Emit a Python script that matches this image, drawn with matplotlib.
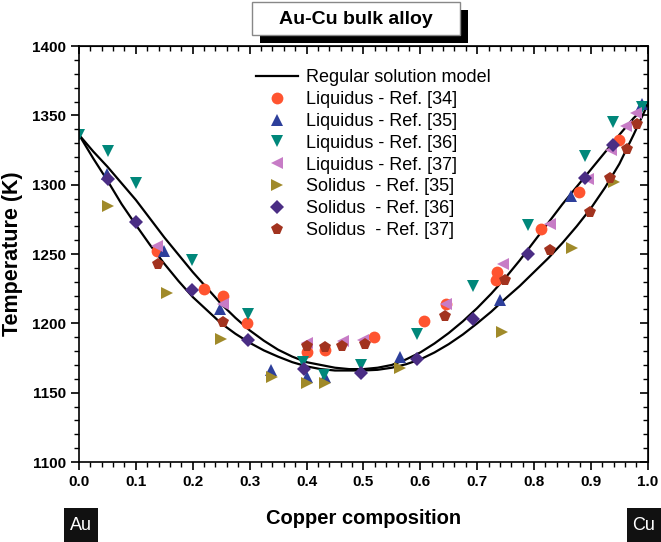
import matplotlib
matplotlib.use("Agg")
import matplotlib.pyplot as plt
from matplotlib.patches import Rectangle
from matplotlib.ticker import MultipleLocator

plt.rcParams["font.family"] = ["Liberation Sans", "DejaVu Sans"]

# Regular solution model curves
model_x = [0.0, 0.025, 0.05, 0.075, 0.1, 0.125, 0.15, 0.175, 0.2, 0.225,
           0.25, 0.275, 0.3, 0.325, 0.35, 0.375, 0.4, 0.425, 0.45, 0.475,
           0.5, 0.525, 0.55, 0.575, 0.6, 0.625, 0.65, 0.675, 0.7, 0.725,
           0.75, 0.775, 0.8, 0.825, 0.85, 0.875, 0.9, 0.925, 0.95, 0.975, 1.0]
liquidus_T = [1336, 1324, 1313, 1301, 1289, 1275.5, 1262, 1249.5, 1237, 1225.5,
              1214, 1204, 1195, 1187.5, 1181, 1176, 1172, 1170, 1168, 1167,
              1167, 1168, 1170, 1174, 1179, 1185.5, 1193, 1201.5, 1211, 1221.5,
              1233, 1245.5, 1259, 1272.5, 1286, 1298.5, 1311, 1323.5, 1336, 1348, 1358]
solidus_T = [1336, 1319, 1303, 1286, 1271, 1256.5, 1243, 1230.5, 1219, 1209.5,
             1200, 1192.5, 1186, 1180.5, 1176, 1172, 1169, 1167, 1166, 1166,
             1166, 1166.5, 1168, 1170.5, 1174, 1179, 1185, 1192, 1200, 1208.5,
             1218, 1227, 1237, 1247, 1258, 1270, 1283, 1298, 1315, 1336, 1358]

# experimental points
liq34_x = [0.137, 0.22, 0.253, 0.295, 0.40, 0.432, 0.518, 0.606, 0.645, 0.735, 0.733, 0.812, 0.879, 0.949]
liq34_T = [1252, 1225, 1220, 1200, 1179, 1181, 1190, 1202, 1214, 1237, 1231, 1268, 1295, 1332]

liq35_x = [0.05, 0.149, 0.248, 0.337, 0.40, 0.432, 0.564, 0.74, 0.865, 0.99]
liq35_T = [1308, 1252, 1210, 1166, 1161, 1161, 1176, 1217, 1292, 1358]

liq36_x = [0.0, 0.051, 0.10, 0.199, 0.297, 0.394, 0.43, 0.496, 0.594, 0.693, 0.789, 0.889, 0.938, 0.99]
liq36_T = [1336, 1324, 1301, 1246, 1207, 1172, 1163, 1170, 1192, 1227, 1271, 1321, 1345, 1356]

liq37_x = [0.137, 0.253, 0.40, 0.464, 0.50, 0.645, 0.745, 0.828, 0.895, 0.935, 0.961, 0.979]
liq37_T = [1256, 1214, 1186, 1187, 1188, 1214, 1243, 1272, 1304, 1325, 1342, 1352]

sol35_x = [0.051, 0.155, 0.25, 0.339, 0.40, 0.432, 0.564, 0.743, 0.866, 0.94]
sol35_T = [1285, 1222, 1189, 1161, 1157, 1157, 1168, 1194, 1254, 1302]

sol36_x = [0.051, 0.10, 0.199, 0.297, 0.395, 0.496, 0.594, 0.692, 0.789, 0.889, 0.938]
sol36_T = [1304, 1273, 1224, 1188, 1167, 1164, 1174, 1203, 1250, 1305, 1329]

sol37_x = [0.139, 0.253, 0.40, 0.432, 0.462, 0.503, 0.643, 0.749, 0.828, 0.898, 0.933, 0.963, 0.981]
sol37_T = [1243, 1201, 1184, 1183, 1184, 1185, 1205, 1231, 1253, 1280, 1305, 1326, 1344]

fig = plt.figure(figsize=(6.61, 5.42), dpi=100)
ax = fig.add_axes([0.1195, 0.1476, 0.8605, 0.7674])

ax.plot(model_x, liquidus_T, color="black", lw=1.6, label="Regular solution model")
ax.plot(model_x, solidus_T, color="black", lw=1.6)

ms = 8.5
series = [
    (liq34_x, liq34_T, "o", "#ff5430", "Liquidus - Ref. [34]", ms),
    (liq35_x, liq35_T, "^", "#2d3f9b", "Liquidus - Ref. [35]", ms),
    (liq36_x, liq36_T, "v", "#00877a", "Liquidus - Ref. [36]", ms),
    (liq37_x, liq37_T, "<", "#c77cc6", "Liquidus - Ref. [37]", ms),
    (sol35_x, sol35_T, ">", "#a08a2a", "Solidus  - Ref. [35]", ms),
    (sol36_x, sol36_T, "D", "#4a2d84", "Solidus  - Ref. [36]", ms - 1.5),
    (sol37_x, sol37_T, "p", "#a2331f", "Solidus  - Ref. [37]", ms),
]
for xs, ts, mk, col, lab, size in series:
    ax.plot(xs, ts, linestyle="none", marker=mk, color=col, markersize=size,
            markeredgewidth=0, label=lab)

ax.set_xlim(0, 1)
ax.set_ylim(1100, 1400)
ax.xaxis.set_major_locator(MultipleLocator(0.1))
ax.xaxis.set_minor_locator(MultipleLocator(0.02))
ax.yaxis.set_major_locator(MultipleLocator(50))
ax.yaxis.set_minor_locator(MultipleLocator(10))
ax.tick_params(which="major", direction="out", length=6, width=1.2, labelsize=11)
ax.tick_params(which="minor", direction="out", length=3.5, width=1.0)
for lbl in ax.get_yticklabels():
    lbl.set_fontweight("bold")
ax.set_xticklabels([f"{v:.1f}" for v in ax.get_xticks()], fontweight="bold")
for sp in ax.spines.values():
    sp.set_linewidth(1.2)

# mirrored ticks on top/right pointing inward
top = ax.secondary_xaxis("top")
top.xaxis.set_major_locator(MultipleLocator(0.1))
top.xaxis.set_minor_locator(MultipleLocator(0.02))
top.tick_params(which="major", direction="in", length=6, width=1.2, labeltop=False)
top.tick_params(which="minor", direction="in", length=3.5, width=1.0)
right = ax.secondary_yaxis("right")
right.yaxis.set_major_locator(MultipleLocator(50))
right.yaxis.set_minor_locator(MultipleLocator(10))
right.tick_params(which="major", direction="in", length=6, width=1.2, labelright=False)
right.tick_params(which="minor", direction="in", length=3.5, width=1.0)

ax.set_xlabel("Copper composition", fontsize=14.5, fontweight="bold", labelpad=14)
ax.set_ylabel("Temperature (K)", fontsize=15.5, fontweight="bold", labelpad=6)

ax.legend(loc="upper left", bbox_to_anchor=(0.299, 0.962), frameon=False,
          fontsize=13, handlelength=2.3, handletextpad=0.45, labelspacing=0.27,
          borderaxespad=0)

# title box with shadow
fig.patches.append(Rectangle((260 / 661, 1 - 43 / 542), 208 / 661, 33 / 542,
                             transform=fig.transFigure, facecolor="black",
                             edgecolor="none", zorder=1))
fig.patches.append(Rectangle((252 / 661, 1 - 35 / 542), 208 / 661, 33 / 542,
                             transform=fig.transFigure, facecolor="white",
                             edgecolor="#888888", lw=1, zorder=2))
fig.text(356 / 661, 1 - 19 / 542, "Au-Cu bulk alloy", ha="center", va="center",
         fontsize=14, fontweight="bold", zorder=3)

# element labels
for x0, txt in [(64, "Au"), (627, "Cu")]:
    fig.patches.append(Rectangle((x0 / 661, 0), 34 / 661, 34 / 542,
                                 transform=fig.transFigure, facecolor="#111111",
                                 edgecolor="none"))
    fig.text((x0 + 17) / 661, 17 / 542, txt, ha="center", va="center",
             color="white", fontsize=13)

fig.savefig("out.png", dpi=100)
